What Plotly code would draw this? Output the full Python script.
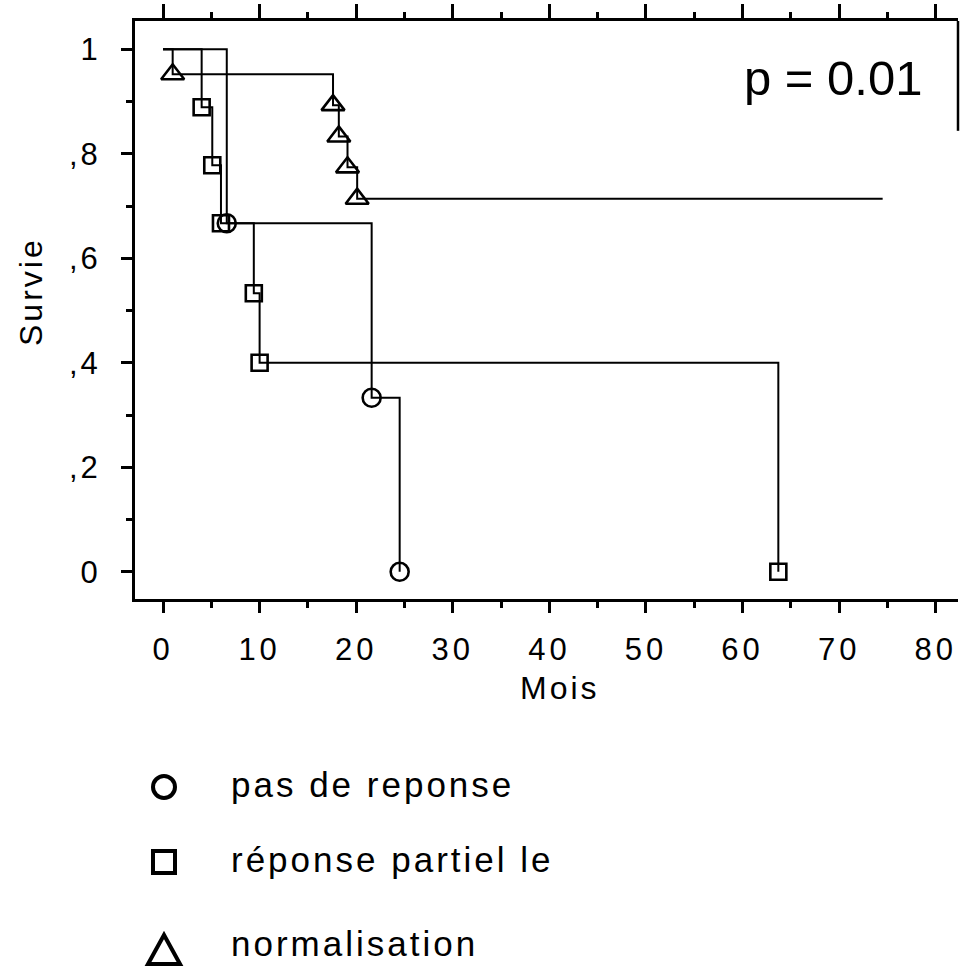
import plotly.graph_objects as go

# Kaplan-Meier survival by response group (months, survival fraction)
pas_mois = [0, 6.6, 21.6, 24.5]
pas_survie = [1.0, 0.667, 0.333, 0.0]

part_mois = [0, 4.0, 5.1, 6.0, 9.4, 10.0, 63.7]
part_survie = [1.0, 0.889, 0.778, 0.667, 0.533, 0.400, 0.0]

norm_mois = [0, 1.0, 17.6, 18.2, 19.1, 20.1]
norm_survie = [1.0, 0.952, 0.893, 0.833, 0.774, 0.714]
norm_suivi_max = 74.5

groupes = ["pas de reponse", "réponse partiel le", "normalisation"]
x_ticks = [0, 10, 20, 30, 40, 50, 60, 70, 80]
y_ticks = [0, 0.2, 0.4, 0.6, 0.8, 1.0]
y_ticktext = ["0", ",2", ",4", ",6", ",8", "1"]
p_value_text = "p = 0.01"

W, H = 960, 971
FONT = "Liberation Sans, Arial, Helvetica, sans-serif"
INK = "black"

# plot frame in pixels
L, R, T, B = 135, 958, 21, 599
X_RANGE = [-2.9, 82.3]
Y_RANGE = [-0.052, 1.054]


def px(x, y):
    return x / W, 1 - y / H


def spaced(text, gap):
    """Wrap text in a span with extra letter spacing."""
    return f'<span style="letter-spacing:{gap}px">{text}</span>'


fig = go.Figure()

step_line = dict(color=INK, width=2)
marker_line = dict(color=INK, width=2.6)

# step curves (the last curve runs on to its longest follow-up)
curves = [
    (pas_mois, pas_survie),
    (part_mois, part_survie),
    (norm_mois + [norm_suivi_max], norm_survie + [norm_survie[-1]]),
]
for mx, my in curves:
    fig.add_trace(go.Scatter(x=mx, y=my, mode="lines", line=step_line,
                             line_shape="hv", showlegend=False, hoverinfo="skip"))

# event markers (no marker at t = 0)
event_sets = [
    (pas_mois[1:], pas_survie[1:], "circle-open", 18),
    (part_mois[1:], part_survie[1:], "square-open", 16),
    (norm_mois[1:], norm_survie[1:], "triangle-up-open", 20),
]
for (mx, my, sym, size), name in zip(event_sets, groupes):
    fig.add_trace(go.Scatter(x=mx, y=my, mode="markers", name=name,
                             marker=dict(symbol=sym, size=size, color=INK,
                                         line=marker_line),
                             showlegend=False, hoverinfo="skip"))

# invisible trace to activate the top axis
fig.add_trace(go.Scatter(x=[X_RANGE[0]], y=[0], xaxis="x2", mode="markers",
                         marker=dict(opacity=0), showlegend=False, hoverinfo="skip"))

x0d, x1d = L / W, R / W
y0d, y1d = 1 - B / H, 1 - T / H

tickfont = dict(family=FONT, size=31, color=INK)
fig.update_layout(
    width=W, height=H,
    margin=dict(l=0, r=0, t=0, b=0),
    paper_bgcolor="white", plot_bgcolor="white",
    xaxis=dict(domain=[x0d, x1d], range=X_RANGE, showgrid=False, zeroline=False,
               showline=True, linecolor=INK, linewidth=3,
               tickmode="array", tickvals=x_ticks,
               ticktext=[spaced(str(v), 4) for v in x_ticks],
               ticks="outside", ticklen=11, tickwidth=2.5, tickcolor=INK,
               ticklabelstandoff=10, tickfont=tickfont,
               minor=dict(dtick=5, tick0=0, ticks="outside", ticklen=6,
                          tickwidth=2.5, tickcolor=INK)),
    xaxis2=dict(overlaying="x", side="top", range=X_RANGE, showgrid=False,
                zeroline=False, showline=True, linecolor=INK, linewidth=3,
                tickmode="array", tickvals=x_ticks, showticklabels=False,
                ticks="outside", ticklen=14, tickwidth=2.5, tickcolor=INK,
                anchor="y",
                minor=dict(dtick=5, tick0=0, ticks="outside", ticklen=6,
                           tickwidth=2.5, tickcolor=INK)),
    yaxis=dict(domain=[y0d, y1d], range=Y_RANGE, showgrid=False, zeroline=False,
               showline=True, linecolor=INK, linewidth=3,
               tickmode="array", tickvals=y_ticks,
               ticktext=[spaced(t, 3) for t in y_ticktext],
               ticks="outside", ticklen=11, tickwidth=2.5, tickcolor=INK,
               ticklabelstandoff=14, tickfont=tickfont,
               minor=dict(dtick=0.1, tick0=0, ticks="outside", ticklen=6,
                          tickwidth=2.5, tickcolor=INK)),
    showlegend=False,
)

# partial right border near the top
fig.add_shape(type="line", xref="x domain", yref="y domain", x0=1, x1=1,
              y0=1, y1=0.81, line=dict(color=INK, width=2.5))

# axis titles
ax, ay = px(560, 688)
fig.add_annotation(x=ax, y=ay, xref="paper", yref="paper", text=spaced("Mois", 3),
                   showarrow=False, font=dict(family=FONT, size=32, color=INK),
                   xanchor="center", yanchor="middle")
ax, ay = px(31, 292)
fig.add_annotation(x=ax, y=ay, xref="paper", yref="paper", text=spaced("Survie", 3),
                   textangle=-90, showarrow=False,
                   font=dict(family=FONT, size=32, color=INK),
                   xanchor="center", yanchor="middle")

# p value
ax, ay = px(924, 78)
fig.add_annotation(x=ax, y=ay, xref="paper", yref="paper", text=p_value_text,
                   showarrow=False, font=dict(family=FONT, size=49, color=INK),
                   xanchor="right", yanchor="middle")

# legend drawn below the plot
legend_rows = [(787, "circle"), (862, "square"), (946, "triangle")]
sym_x, text_x = 164, 229
for (ry, kind), label in zip(legend_rows, groupes):
    if kind == "circle":
        a0, b0 = px(sym_x - 11, ry - 11)
        a1, b1 = px(sym_x + 11, ry + 11)
        fig.add_shape(type="circle", xref="paper", yref="paper",
                      x0=a0, y0=b1, x1=a1, y1=b0, line=dict(color=INK, width=4))
    elif kind == "square":
        a0, b0 = px(sym_x - 11, ry - 11)
        a1, b1 = px(sym_x + 11, ry + 11)
        fig.add_shape(type="rect", xref="paper", yref="paper",
                      x0=a0, y0=b1, x1=a1, y1=b0, line=dict(color=INK, width=4))
    else:
        pa = px(sym_x, ry - 11)
        pb = px(sym_x - 16, ry + 18)
        pc = px(sym_x + 16, ry + 18)
        path = f"M {pa[0]},{pa[1]} L {pb[0]},{pb[1]} L {pc[0]},{pc[1]} Z"
        fig.add_shape(type="path", xref="paper", yref="paper", path=path,
                      line=dict(color=INK, width=4))
    tx, ty = px(text_x, ry - 3)
    fig.add_annotation(x=tx, y=ty, xref="paper", yref="paper",
                       text=spaced(label, 3),
                       showarrow=False, font=dict(family=FONT, size=35, color=INK),
                       xanchor="left", yanchor="middle")

fig.write_html("out.html")
